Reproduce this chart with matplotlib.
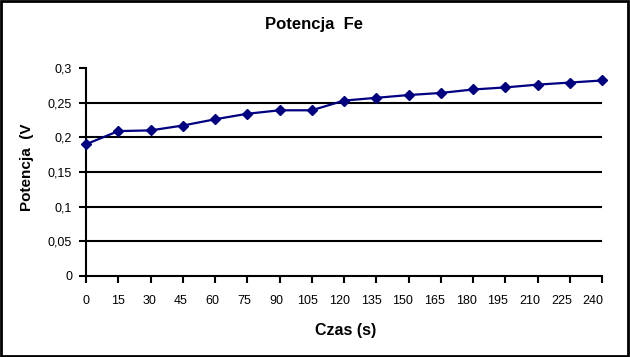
import matplotlib
matplotlib.use("Agg")
import matplotlib.pyplot as plt
from matplotlib.patches import Rectangle
from matplotlib.transforms import ScaledTranslation

plt.rcParams['font.family'] = ['Liberation Sans', 'DejaVu Sans']

czas = [0, 15, 30, 45, 60, 75, 90, 105, 120, 135, 150, 165, 180, 195, 210, 225, 240]
potencja = [0.19, 0.209, 0.21, 0.217, 0.226, 0.234, 0.239, 0.239, 0.253, 0.257,
            0.261, 0.264, 0.269, 0.272, 0.276, 0.279, 0.282]
y_ticks = [0, 0.05, 0.1, 0.15, 0.2, 0.25, 0.3]
y_tick_labels = ['0', '0,05', '0,1', '0,15', '0,2', '0,25', '0,3']

fig = plt.figure(figsize=(6.3, 3.57), dpi=100)
ax = fig.add_axes([86/630, 1-276/357, (602-86)/630, (276-68)/357])

for v in y_ticks[1:-1]:
    ax.axhline(v, color='black', lw=1.5, zorder=1)

ax.plot(czas, potencja, color='#000080', lw=1.6, marker='D', markersize=5,
        zorder=3, clip_on=False)

ax.set_xlim(0, 240)
ax.set_ylim(0, 0.3)
ax.set_xticks(czas)
ax.set_xticklabels([str(c) for c in czas])
ax.set_yticks(y_ticks)
ax.set_yticklabels(y_tick_labels)
ax.tick_params(axis='both', direction='out', length=5, width=1.5, labelsize=9, colors='black')
ax.tick_params(axis='x', pad=9)
ax.tick_params(axis='y', pad=5)
for s in ['top', 'right']:
    ax.spines[s].set_visible(False)
for s in ['left', 'bottom']:
    ax.spines[s].set_linewidth(1.5)
    ax.spines[s].set_color('black')

# slight leftward drift of category labels as in the original rendering
n = len(czas)
for i, lab in enumerate(ax.get_xticklabels()):
    dx = -(i / (n - 1)) * 9 / 100
    lab.set_transform(lab.get_transform() + ScaledTranslation(dx, 0, fig.dpi_scale_trans))

fig.text(314/630, 1-24/357, 'Potencja  Fe', ha='center', va='center', fontsize=12, fontweight='bold')
fig.text(346/630, 1-330/357, 'Czas (s)', ha='center', va='center', fontsize=11.5, fontweight='bold')
fig.text(27/630, 1-167/357, 'Potencja  (V', ha='center', va='center', fontsize=11,
         fontweight='bold', rotation=90)

fig.patches.append(Rectangle((0.0015, 0.003), 0.996, 0.993, transform=fig.transFigure,
                             fill=False, edgecolor='black', lw=2))

fig.savefig('out.png', dpi=100)
